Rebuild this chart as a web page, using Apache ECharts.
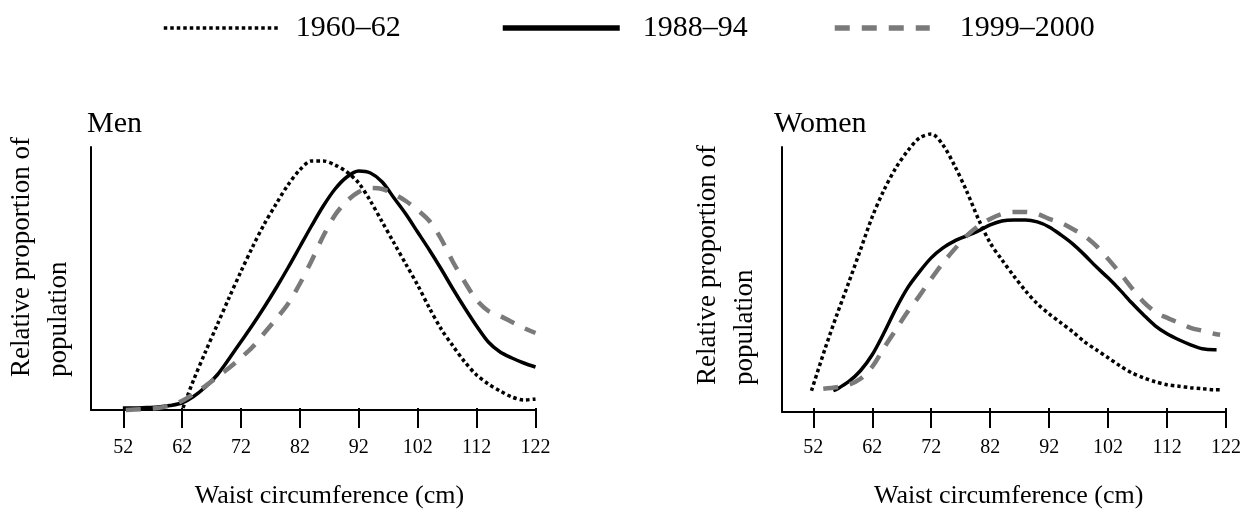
<!DOCTYPE html>
<html>
<head>
<meta charset="utf-8">
<script src="https://cdn.jsdelivr.net/npm/echarts@6/dist/echarts.min.js"></script>
<style>
html, body { margin: 0; padding: 0; background: #fff; }
#container { width: 1251px; height: 514px; }
</style>
</head>
<body>
<div id="container"></div>
<script>
// waist circumference (cm) ticks and survey periods
var waistTicks = [52, 62, 72, 82, 92, 102, 112, 122];
var periods = ['1960–62', '1988–94', '1999–2000'];

// [waist cm, relative proportion]
var men1960 = [[62.2,2],[64,30],[66,58],[68,85],[70,112],[72,138],[74,163],[76,186],[78,206],[80,225],[82,240],[84,249],[86,249],[88,245],[90,238],[92,227],[94,209],[96,188],[98,167],[100,146],[102,125],[104,102],[106,81],[108,64],[110,48],[112,35],[114,26],[116,19],[118,13],[120,10],[122,11]];
var men1988 = [[52,2],[54,2],[56,2.5],[58,3],[60,4.5],[62,7],[64,13.5],[66,23],[68,35],[70,51],[72,68],[74,85],[76,103],[78,122],[80,142],[82,163],[84,184],[86,204],[88,221],[90,233],[92,239],[94,237],[96,228],[98,212],[100,196],[102,178],[104,160],[106,141],[108,121],[110,102],[112,84],[114,68],[116,58],[118,52],[120,47],[122,43]];
var men1999 = [[52.5,0],[54,0.5],[56,1],[58,2],[60,4.5],[62,9],[64,16],[66,24],[68,33],[70,42],[72,52],[74,63],[76,77],[78,91],[80,106],[82,126],[84,149],[86,174],[88,195],[90,209],[92,218],[94,222],[96,221],[98,216],[100,209],[102,200],[104,189],[106,171],[108,148],[110,128],[112,110],[114,99],[116,94],[118,88],[120,82],[122,77]];

var women1960 = [[51.7,21],[54,63],[56,97],[58,129],[60,162],[62,195],[64,222],[66,244],[68,261],[70,274],[72,278],[74,267],[76,246],[78,221],[80,193],[82,169],[84,152],[86,136],[88,121],[90,108],[92,98],[94,89],[96,80],[98,70],[100,62],[102,54],[104,46],[106,39],[108,34],[110,30],[112,27],[114,25.5],[116,24],[118,23],[120,22],[121,22]];
var women1988 = [[55.4,21],[56,22.5],[58,30],[60,41],[62,57],[64,79],[66,103],[68,124],[70,140],[72,154],[74,164],[76,171],[78,176],[80,181],[82,187],[84,191],[86,192],[88,192],[90,190],[92,185],[94,177],[96,168],[98,157],[100,145],[102,134],[104,122],[106,109],[108,97],[110,86],[112,78],[114,72],[116,67],[118,63],[120,62],[120.4,62]];
var women1999 = [[53.7,23],[56,24.5],[58,27],[60,33],[62,45],[64,64],[66,82],[68,100],[70,116],[72,133],[74,149],[76,163],[78,176],[80,186],[82,193],[84,198],[86,200],[88,200],[90,198],[92,193],[94,189],[96,183],[98,176],[100,166],[102,153],[104,139],[106,124],[108,110],[110,100],[112,94],[114,89],[116,84],[118,81],[120,78],[121,77]];

var dom = document.getElementById('container');
var myChart = echarts.init(dom);
var serif = '"Liberation Serif", "Times New Roman", serif';

var styles = [
    {color: '#000', width: 3.5, type: [3.5, 3], cap: 'butt'},
    {color: '#000', width: 3.5, type: 'solid'},
    {color: '#7a7a7a', width: 4.5, type: [15, 12], cap: 'butt'}
];

// plotting axis: full width from the y axis, line only
function plotX(grid, min) {
    return {
        gridIndex: grid,
        type: 'value',
        min: min,
        max: 122,
        axisLine: {show: true, lineStyle: {color: '#000', width: 2}},
        axisTick: {show: false},
        axisLabel: {show: false},
        splitLine: {show: false}
    };
}

// tick axis: 52..122, ticks + labels + name
function tickX(grid, namePad) {
    return {
        gridIndex: grid,
        type: 'value',
        min: waistTicks[0],
        max: waistTicks[waistTicks.length - 1],
        interval: 10,
        name: 'Waist circumference (cm)',
        nameLocation: 'middle',
        nameGap: 75,
        nameTextStyle: {fontFamily: serif, fontSize: 26, color: '#000', padding: namePad},
        axisLine: {show: false},
        axisTick: {show: true, length: 20, lineStyle: {color: '#000', width: 2}},
        axisLabel: {fontFamily: serif, fontSize: 20, color: '#000', margin: 30, showMinLabel: true, showMaxLabel: true},
        splitLine: {show: false}
    };
}

function yAxis(grid, max, visible) {
    return {
        gridIndex: grid,
        type: 'value',
        show: visible,
        min: 0,
        max: max,
        axisLine: {show: true, lineStyle: {color: '#000', width: 2}},
        axisTick: {show: false},
        axisLabel: {show: false},
        splitLine: {show: false}
    };
}

function line(name, idx, data, style) {
    return {
        name: name,
        type: 'line',
        xAxisIndex: idx,
        yAxisIndex: idx,
        data: data,
        smooth: 0.3,
        symbol: 'none',
        clip: false,
        lineStyle: style,
        itemStyle: {color: style.color}
    };
}

function legendItem(i, left, width, lw, gap) {
    return {
        data: [periods[i]],
        left: left,
        top: 13,
        padding: 0,
        itemWidth: width,
        itemHeight: 14,
        selectedMode: false,
        itemStyle: {opacity: 0},
        lineStyle: {width: lw},
        textStyle: {fontFamily: serif, fontSize: 30, color: '#000', padding: [0, 0, 0, gap]}
    };
}

option = {
    animation: false,
    backgroundColor: '#fff',
    legend: [
        legendItem(0, 162, 116, 3.5, 11),
        legendItem(1, 500, 117, 5.5, 18),
        legendItem(2, 832, 95, 5.5, 25)
    ],
    grid: [
        {left: 91, right: 715.5, top: 147, bottom: 104},
        {left: 782, right: 25, top: 147, bottom: 102.3},
        {left: 123.3, right: 715.5, top: 147, bottom: 104},
        {left: 813.3, right: 25, top: 147, bottom: 102.3}
    ],
    xAxis: [plotX(0, 46.6), plotX(1, 46.7), tickX(2, [0, 0, 0, 0]), tickX(3, [0, 22, 0, 0])],
    yAxis: [yAxis(0, 263, true), yAxis(1, 265, true), yAxis(2, 263, false), yAxis(3, 265, false)],
    graphic: [
        {type: 'text', x: 87, y: 124, style: {text: 'Men', font: '30px ' + serif, fill: '#000', verticalAlign: 'middle'}},
        {type: 'text', x: 774, y: 124, style: {text: 'Women', font: '30px ' + serif, fill: '#000', verticalAlign: 'middle'}},
        {type: 'text', x: 40, y: 377, rotation: Math.PI / 2,
            style: {text: 'Relative proportion of\npopulation', font: '27px ' + serif, fill: '#000', align: 'left', verticalAlign: 'middle', lineHeight: 37}},
        {type: 'text', x: 726, y: 385, rotation: Math.PI / 2,
            style: {text: 'Relative proportion of\npopulation', font: '27px ' + serif, fill: '#000', align: 'left', verticalAlign: 'middle', lineHeight: 37}}
    ],
    series: [
        line(periods[0], 0, men1960, styles[0]),
        line(periods[1], 0, men1988, styles[1]),
        line(periods[2], 0, men1999, styles[2]),
        line(periods[0], 1, women1960, styles[0]),
        line(periods[1], 1, women1988, styles[1]),
        line(periods[2], 1, women1999, styles[2])
    ]
};

if (option && typeof option === "object") {
    myChart.setOption(option, true);
}
</script>
</body>
</html>
